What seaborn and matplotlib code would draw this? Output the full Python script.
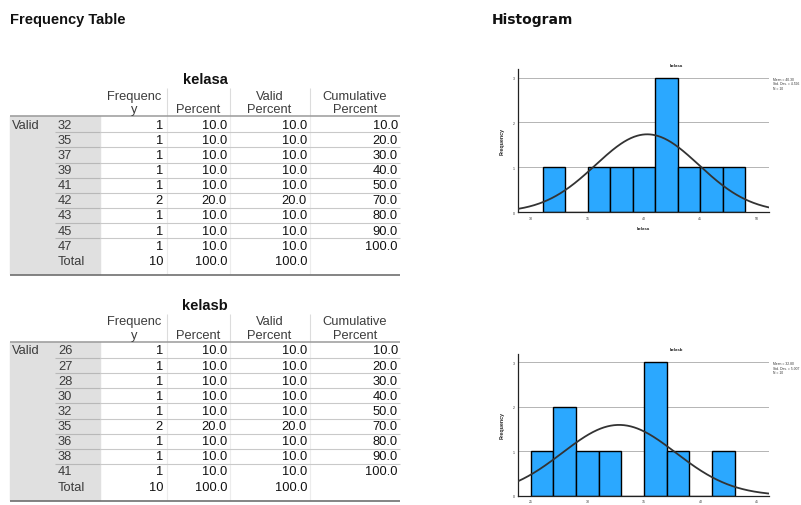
import numpy as np
import matplotlib
matplotlib.use("Agg")
import matplotlib.pyplot as plt
import seaborn as sns
from matplotlib.lines import Line2D
from matplotlib.patches import Rectangle

# ---- data -------------------------------------------------------------
kelasa_values = [32, 35, 37, 39, 41, 42, 43, 45, 47]
kelasa_freq = [1, 1, 1, 1, 1, 2, 1, 1, 1]
kelasb_values = [26, 27, 28, 30, 32, 35, 36, 38, 41]
kelasb_freq = [1, 1, 1, 1, 1, 2, 1, 1, 1]

header_top = ["Frequenc", "", "Valid", "Cumulative"]
header_bottom = ["y", "Percent", "Percent", "Percent"]

kelasa_ticks = [30, 35, 40, 45, 50]
kelasb_ticks = [25, 30, 35, 40, 45]

# ---- figure setup -----------------------------------------------------
sns.set_theme(style="white")
plt.rcParams["font.family"] = ["Liberation Sans", "DejaVu Sans"]

W, H = 801, 506
fig = plt.figure(figsize=(W / 100, H / 100), dpi=100)
fig.patch.set_facecolor("white")


def fx(x):
    return x / W


def fy(y):
    return 1 - y / H


def put(x, y, s, **kw):
    kw.setdefault("va", "center")
    fig.text(fx(x), fy(y), s, **kw)


def seg(x0, x1, y0, y1, color, lw):
    fig.add_artist(Line2D([fx(x0), fx(x1)], [fy(y0), fy(y1)], color=color,
                          lw=lw, transform=fig.transFigure, solid_capstyle="butt"))


put(10, 20, "Frequency Table", fontsize=10.5, weight="bold", color="#111111")
put(492, 20, "Histogram", fontsize=10, weight="bold", color="#111111",
    family="DejaVu Sans")

# ---- frequency tables -------------------------------------------------
col_right = [163, 227, 307, 398]
col_center = [134, 198.3, 269.3, 355]
col_lines = [166.7, 230, 310]
ROW = 15.12
FS = 9.3


def draw_table(dy, name, values, freq):
    n = sum(freq)
    put(205, 80 + dy, name, fontsize=10.5, weight="bold", ha="center", color="#111111")
    for c, (t, b) in enumerate(zip(header_top, header_bottom)):
        if t:
            put(col_center[c], 96.7 + dy, t, fontsize=FS, ha="center", color="#3c3c3c")
        put(col_center[c], 110 + dy, b, fontsize=FS, ha="center", color="#3c3c3c")
    for x in col_lines:
        seg(x, x, 89 + dy, 117 + dy, "#dcdcdc", 0.8)
        seg(x, x, 117 + dy, 275 + dy, "#ececec", 0.8)

    fig.add_artist(Rectangle((fx(9.5), fy(275 + dy)), (100 - 9.5) / W,
                             (275 - 117.3) / H, color="#e0e0e0",
                             transform=fig.transFigure, zorder=0))
    for k in range(len(values) - 1):
        yy = 133.3 + ROW * k + dy
        seg(55, 100, yy, yy, "#b8b8b8", 0.8)
        seg(100, 400, yy, yy, "#c9c9c9", 0.8)
    seg(9.5, 400, 117.3 + dy, 117.3 + dy, "#9a9a9a", 1.1)
    seg(9.5, 400, 276 + dy, 276 + dy, "#6f6f6f", 1.2)

    put(12, 125.7 + dy, "Valid", fontsize=FS, color="#3c3c3c")
    cum = 0.0
    for i, (v, f) in enumerate(zip(values, freq)):
        y = 125.7 + ROW * i + dy
        pct = 100.0 * f / n
        cum += pct
        put(58, y, str(v), fontsize=FS, color="#3c3c3c")
        cells = [f"{f}", f"{pct:.1f}", f"{pct:.1f}", f"{cum:.1f}"]
        for c, s in enumerate(cells):
            put(col_right[c], y, s, fontsize=FS, ha="right", color="#111111")
    y = 125.7 + ROW * len(values) + dy
    put(58, y, "Total", fontsize=FS, color="#3c3c3c")
    for c, s in enumerate([f"{n}", "100.0", "100.0"]):
        put(col_right[c], y, s, fontsize=FS, ha="right", color="#111111")


draw_table(0, "kelasa", kelasa_values, kelasa_freq)
draw_table(225.8, "kelasb", kelasb_values, kelasb_freq)

# ---- histograms -------------------------------------------------------
BIN_W = 2


def draw_hist(box, name, values, freq, first_edge, xlim, ticks, title_y, legend_y,
              show_xlabel=True):
    left, right, top, bottom = box
    ax = fig.add_axes([fx(left), fy(bottom), (right - left) / W, (bottom - top) / H])
    raw = np.repeat(values, freq)
    edges = np.arange(first_edge, max(values) + BIN_W + 0.001, BIN_W)
    sns.histplot(x=raw, bins=edges, stat="count", color="#2ba8ff", alpha=1,
                 edgecolor="black", linewidth=1.0, ax=ax, zorder=2)
    mean, sd, n = raw.mean(), raw.std(ddof=1), len(raw)
    xs = np.linspace(xlim[0], xlim[1], 300)
    ys = n * BIN_W * np.exp(-0.5 * ((xs - mean) / sd) ** 2) / (sd * np.sqrt(2 * np.pi))
    ax.plot(xs, ys, color="#333333", lw=1.3, zorder=3)

    ax.set_xlim(*xlim)
    ax.set_ylim(0, 3.19)
    ax.set_xticks(ticks)
    ax.set_yticks([0, 1, 2, 3])
    ax.yaxis.grid(True, color="#b4b4b4", lw=0.7)
    ax.set_axisbelow(True)
    for s in ("top", "right"):
        ax.spines[s].set_visible(False)
    for s in ("left", "bottom"):
        ax.spines[s].set_color("#222222")
        ax.spines[s].set_linewidth(0.9)
    ax.tick_params(labelsize=2.5, length=1.2, width=0.5, pad=1.5, colors="#333333")
    ax.set_xlabel(name if show_xlabel else "", fontsize=3.2, weight="bold", labelpad=4)
    ax.set_ylabel("Frequency", fontsize=3.8, weight="bold", labelpad=6)

    put(676.7, title_y, name, fontsize=3.2, weight="bold", ha="center", color="#222222")
    put(772.7, legend_y, f"Mean = {mean:.2f}\nStd. Dev. = {sd:.3f}\nN = {n}",
        fontsize=2.4, va="top", color="#333333", linespacing=1.1)


draw_hist((518.3, 769.3, 70, 213.3), "kelasa", kelasa_values, kelasa_freq,
          31, (28.84, 51.15), kelasa_ticks, 66, 78)
draw_hist((518.3, 769.3, 355, 496.7), "kelasb", kelasb_values, kelasb_freq,
          25, (23.9, 46.06), kelasb_ticks, 350, 362.5, show_xlabel=False)

fig.savefig("out.png", dpi=100, facecolor="white")
